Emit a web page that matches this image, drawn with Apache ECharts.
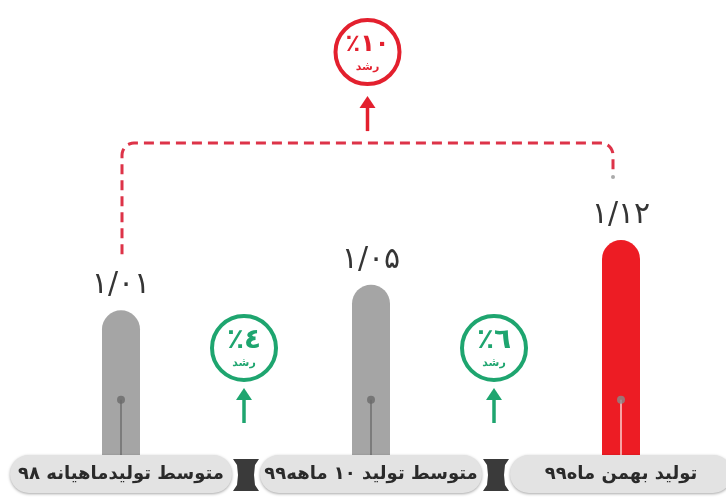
<!DOCTYPE html>
<html><head><meta charset="utf-8">
<script src="https://cdn.jsdelivr.net/npm/echarts@6/dist/echarts.min.js"></script>
<style>html,body{margin:0;padding:0;background:#fff}#c{width:726px;height:501px}</style>
</head><body><div id="c"></div>
<script>
// ---- data ----
const categories = ['متوسط تولیدماهیانه ۹۸', 'متوسط تولید ۱۰ ماهه۹۹', 'تولید بهمن ماه۹۹'];
const values = [1.01, 1.05, 1.12];
const growthLabels = ['٪٤', '٪٦'];      // growth between consecutive bars
const totalGrowthLabel = '٪۱۰';          // growth first -> last
const growthWord = 'رشد';
const pinValues = [0.87, 0.87, 0.87];    // decorative pin height inside bars

// ---- styles ----
const barColors = ['#a5a5a5', '#a5a5a5', '#ed1c24'];
const pinLineColors = ['#7c7c7c', '#7c7c7c', '#f7a3a3'];
const pinDotColors = ['#6a6a6a', '#6a6a6a', '#8a8a8a'];
const FONT = "'DejaVu Sans', sans-serif";
const RED = '#e3202e', GREEN = '#1ea56f';

const toFa = s => String(s).replace(/[0-9]/g, d => '۰۱۲۳۴۵۶۷۸۹'[d]);

const chart = echarts.init(document.getElementById('c'), null, {renderer: 'canvas'});
const option = {
  backgroundColor: '#ffffff',
  animation: false,
  grid: {left: -4, width: 750, top: 189, bottom: 31, containLabel: false, outerBoundsMode: 'none'},
  xAxis: [{
    type: 'category', data: categories, z: 10,
    axisLine: {show: false}, axisTick: {show: false}, splitLine: {show: false},
    axisLabel: {
      interval: 0, margin: 4, verticalAlign: 'middle', align: 'center',
      fontFamily: FONT, fontWeight: 'bold', fontSize: 18, color: '#2a2a2a',
      backgroundColor: '#e3e3e3', borderRadius: 19, padding: [10, 8], width: 206,
      shadowColor: 'rgba(0,0,0,0.35)', shadowBlur: 3, shadowOffsetY: 1
    }
  }, {
    type: 'category', data: categories, show: false
  }],
  yAxis: {type: 'value', min: 0.76, max: 1.2, show: false},
  series: [{
    type: 'bar', data: values.map((v, i) => ({value: v, itemStyle: {color: barColors[i]}})),
    barWidth: 38, z: 2,
    itemStyle: {borderRadius: [19, 19, 0, 0]},
    label: {
      show: true, position: 'top', distance: 10,
      formatter: p => toFa(p.value.toFixed(2).replace('.', '/')),
      fontFamily: FONT, fontSize: 30, color: '#353535'
    }
  }, {
    type: 'bar', xAxisIndex: 1, data: pinValues.map((v, i) => ({value: v, itemStyle: {color: pinLineColors[i]}})),
    barWidth: 2, z: 3, silent: true
  }, {
    type: 'scatter', xAxisIndex: 1, data: pinValues.map((v, i) => ({value: v, itemStyle: {color: pinDotColors[i]}})),
    symbolSize: 8, z: 4, silent: true
  }]
};
chart.setOption(option);

// ---- annotations positioned from the chart's own scales ----
const p = values.map((v, i) => chart.convertToPixel({xAxisIndex: 0, yAxisIndex: 0}, [i, v]));
const baseY = chart.convertToPixel({yAxisIndex: 0}, 0.76);
const els = [];

function arcPts(cx, cy, rad, a0, a1, n) {
  const out = [];
  for (let k = 0; k <= n; k++) {
    const a = a0 + (a1 - a0) * k / n;
    out.push([cx + rad * Math.cos(a), cy + rad * Math.sin(a)]);
  }
  return out;
}

// dashed connector between first and last bars
const lx = p[0][0] + 1, ly = p[0][1] - 56;
const rx = p[2][0] - 8, ry = p[2][1] - 70;
const ty = p[2][1] - 97, r = 12;
const pts = [[lx, ly]]
  .concat(arcPts(lx + r, ty + r, r, Math.PI, 1.5 * Math.PI, 8))
  .concat(arcPts(rx - r, ty + r, r, 1.5 * Math.PI, 2 * Math.PI, 8))
  .concat([[rx, ry]]);
els.push({type: 'polyline', z: 100, shape: {points: pts},
  style: {fill: null, stroke: '#dd3348', lineWidth: 3, lineDash: [10, 6]}});
els.push({type: 'circle', z: 100, shape: {cx: rx, cy: ry + 7, r: 2}, style: {fill: '#aaa'}});

function growthBadge(cx, cy, color, label, fontSize, arrowTop, arrowBottom) {
  els.push({type: 'line', z: 100, shape: {x1: cx, y1: arrowBottom, x2: cx, y2: arrowTop + 8}, style: {stroke: color, lineWidth: 3.5}});
  els.push({type: 'polygon', z: 100, shape: {points: [[cx - 8, arrowTop + 12], [cx + 8, arrowTop + 12], [cx, arrowTop]]}, style: {fill: color}});
  els.push({type: 'circle', z: 100, shape: {cx, cy, r: 32}, style: {fill: '#fff', stroke: color, lineWidth: 4}});
  els.push({type: 'text', z: 101, x: cx, y: cy - 7, style: {text: label, fill: color, font: `bold ${fontSize}px ${FONT}`, align: 'center', verticalAlign: 'middle'}});
  els.push({type: 'text', z: 101, x: cx, y: cy + 15, style: {text: growthWord, fill: color, font: `bold 11px ${FONT}`, align: 'center', verticalAlign: 'middle'}});
}
const mid = (lx + rx) / 2;
growthBadge(mid, ty - 91, RED, totalGrowthLabel, 24, ty - 47, ty - 12);
for (let i = 0; i < 2; i++) {
  const cx = (p[i][0] + p[i + 1][0]) / 2 - 2;
  growthBadge(cx, baseY - 122, GREEN, growthLabels[i], 28, baseY - 82, baseY - 47);
}

// hourglass connectors between the category pills
for (let i = 0; i < 2; i++) {
  const x = (p[i][0] + p[i + 1][0]) / 2;
  const y0 = baseY - 11, y1 = baseY + 21, ym = (y0 + y1) / 2;
  els.push({type: 'polygon', z: 100, shape: {points: [
    [x - 13, y0], [x + 13, y0], [x + 9, y0 + 6], [x + 8, ym], [x + 9, y1 - 6], [x + 13, y1],
    [x - 13, y1], [x - 9, y1 - 6], [x - 8, ym], [x - 9, y0 + 6]]},
    style: {fill: '#3a3a3a'}});
}
chart.setOption({graphic: {elements: els}});
</script></body></html>
